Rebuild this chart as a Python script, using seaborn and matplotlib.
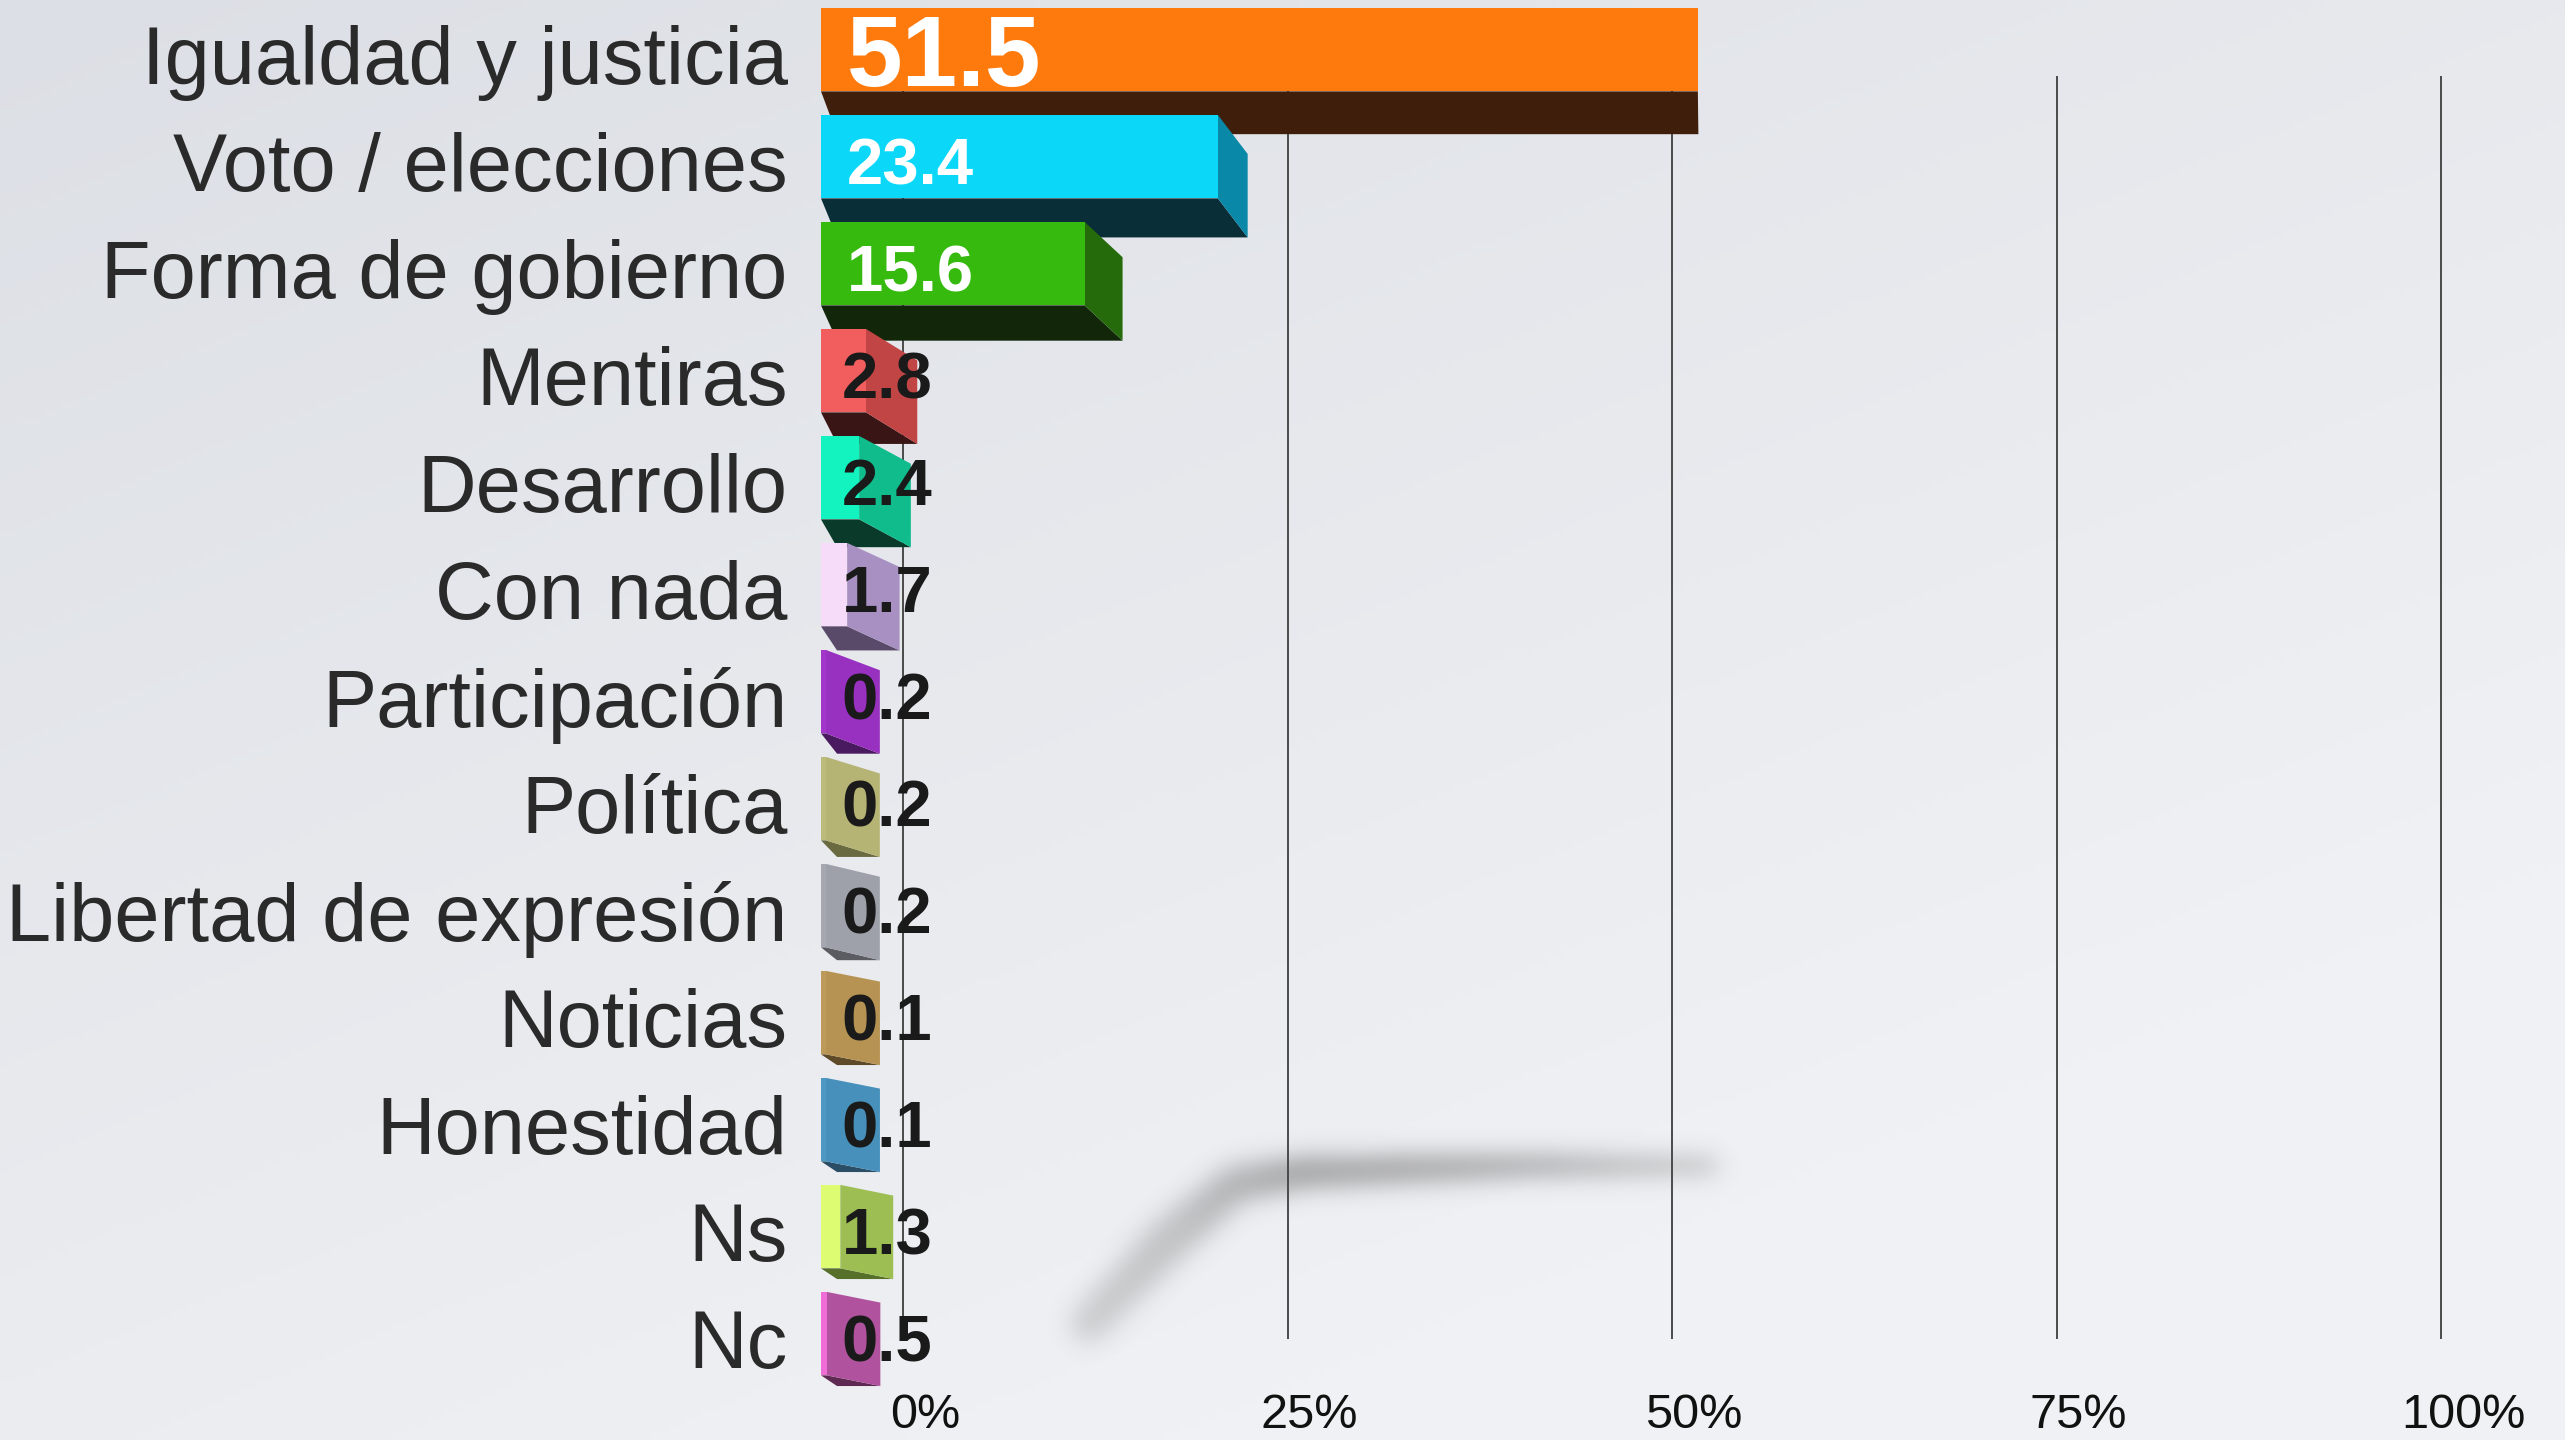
import numpy as np
import pandas as pd

import matplotlib
matplotlib.use('Agg')

import matplotlib.pyplot as plt
import matplotlib.colors as mcolors
from matplotlib.patches import Polygon
from matplotlib.transforms import ScaledTranslation
import seaborn as sns


# =========================================================
# DATA
# =========================================================

CATEGORIES = [
    "Igualdad y justicia",
    "Voto / elecciones",
    "Forma de gobierno",
    "Mentiras",
    "Desarrollo",
    "Con nada",
    "Participación",
    "Política",
    "Libertad de expresión",
    "Noticias",
    "Honestidad",
    "Ns",
    "Nc",
]

VALUES = [51.5, 23.4, 15.6, 2.8, 2.4, 1.7, 0.2, 0.2, 0.2, 0.1, 0.1, 1.3, 0.5]

VALUE_LABELS = ["51.5", "23.4", "15.6", "2.8", "2.4", "1.7", "0.2",
                "0.2", "0.2", "0.1", "0.1", "1.3", "0.5"]

TICKS = [0, 25, 50, 75, 100]
TICK_LABELS = ["0%", "25%", "50%", "75%", "100%"]


# =========================================================
# STYLE
# =========================================================

FRONT = ["#FF7A0C", "#0BD8F8", "#36BA0E", "#F25E5E", "#12F3C0",
         "#F7DCF9", "#A236CA", "#BDBB7C", "#A5A8B0", "#BD9A5A",
         "#4E98C4", "#DDFC72", "#F06CD6"]

SIDE = ["#E06A08", "#0A88A8", "#256B0C", "#C24545", "#10BC8C",
        "#A891C2", "#9830C0", "#B6B474", "#9EA1A9", "#B69352",
        "#4790BC", "#9CBE52", "#B0529E"]

BOTTOM = ["#3F1F0C", "#0A2E38", "#12260A", "#3A1515", "#0A3A2A",
          "#5A4A6A", "#4A1A60", "#6A6A40", "#5A5C62", "#5E4A28",
          "#2A4E66", "#56702A", "#5E2A54"]

WHITE_LABEL = [True, True, True] + [False] * 10
LABEL_SIZE = [72, 47, 47] + [47] * 10

BAR_START = -3.2      # front-scale position of bar left edges
VANISH = 52.0         # side faces shrink towards this point
SIDE_RATIO = 0.065

sns.set_theme(style="white")
plt.rcParams['font.family'] = ['Liberation Sans', 'DejaVu Sans']

W, H = 2565, 1440
fig = plt.figure(figsize=(W / 100, H / 100), dpi=100)

# background gradient
ax_bg = fig.add_axes([0, 0, 1, 1], zorder=0)
gx, gy = np.meshgrid(np.linspace(0, 1, 300), np.linspace(0, 1, 200))
t = np.clip(0.55 * gx + 0.75 * gy, 0, 1)
c0 = np.array(mcolors.to_rgb("#DCDFE5"))
c1 = np.array(mcolors.to_rgb("#F0F1F4"))
grad = c0[None, None, :] * (1 - t[..., None]) + c1[None, None, :] * t[..., None]
ax_bg.imshow(grad, aspect='auto', extent=[0, 1, 1, 0])
ax_bg.axis('off')

POS = [800 / W, 50 / H, 1765 / W, 1390 / H]
YLIM = (12.477, -0.514)


# =========================================================
# BACK WALL: GRID + PERCENT TICKS
# =========================================================

ax_back = fig.add_axes(POS, zorder=1)
ax_back.set_facecolor('none')


def blur1d(a, sigma, axis):
    r = int(3 * sigma)
    k = np.exp(-0.5 * (np.arange(-r, r + 1) / sigma) ** 2)
    k /= k.sum()
    return np.apply_along_axis(lambda m: np.convolve(m, k, mode='same'), axis, a)


# soft floor shadow of the longest bar (blurred polyline)
sx = np.array([VALUES[0] + 1.0, 40, 26, 21.5, 17, 12.0])
sy = np.array([10.38, 10.38, 10.44, 10.55, 11.1, 11.85])
sw = np.array([6, 10, 15, 18, 22, 18])            # half widths in px
si = np.array([0.8, 1.0, 1.0, 0.75, 0.55, 0.45])  # darkness

PX_X, PX_Y = 15.38, 107.0
x0, x1, y0, y1 = 4.0, 59.0, 9.8, 12.45
nx, ny = int((x1 - x0) * PX_X), int((y1 - y0) * PX_Y)
px, py = np.meshgrid(np.arange(nx), np.arange(ny))
mask = np.zeros((ny, nx))
qx, qy = (sx - x0) * PX_X, (sy - y0) * PX_Y
for j in range(len(sx) - 1):
    ax_, ay_, bx_, by_ = qx[j], qy[j], qx[j + 1], qy[j + 1]
    vx, vy = bx_ - ax_, by_ - ay_
    u = np.clip(((px - ax_) * vx + (py - ay_) * vy) / (vx * vx + vy * vy), 0, 1)
    d = np.hypot(px - (ax_ + u * vx), py - (ay_ + u * vy))
    hw = sw[j] + u * (sw[j + 1] - sw[j])
    inten = si[j] + u * (si[j + 1] - si[j])
    mask = np.maximum(mask, np.where(d < hw, inten, 0.0))
mask = blur1d(blur1d(mask, 12, 0), 12, 1)
shadow = np.zeros((ny, nx, 4))
shadow[..., :3] = 0.42
shadow[..., 3] = np.clip(mask * 0.6, 0, 1)
ax_back.imshow(shadow, extent=[x0, x1, y1, y0], aspect='auto',
               interpolation='bilinear', zorder=1)

ax_back.vlines(TICKS, 0.2, 12.0, color="#4a4a4a", lw=1.4, zorder=2)

ax_back.set_xlim(-6.70, 108.06)
ax_back.set_ylim(*YLIM)
ax_back.set_xticks(TICKS)
ax_back.set_xticklabels(TICK_LABELS, fontsize=35, color="#111111")
ax_back.tick_params(axis='x', length=0, pad=2)
for lbl in ax_back.get_xticklabels():
    lbl.set_transform(lbl.get_transform() +
                      ScaledTranslation(0.22, 0, fig.dpi_scale_trans))
ax_back.set_yticks([])
for s in ax_back.spines.values():
    s.set_visible(False)


# =========================================================
# FRONT: 3D-LOOKING BARS
# =========================================================

ax = fig.add_axes(POS, zorder=2)
ax.set_facecolor('none')

df = pd.DataFrame({"cat": CATEGORIES, "val": VALUES})

sns.barplot(
    data=df,
    x="val",
    y="cat",
    hue="cat",
    palette=FRONT,
    legend=False,
    orient='h',
    width=0.78,
    saturation=1,
    ax=ax
)

for i, (patch, v) in enumerate(zip(ax.patches, VALUES)):

    dx = SIDE_RATIO * max(VANISH - v, 0)
    dy = max(0.40 - 0.035 * i, 0.10)
    front_end = max(v - dx, BAR_START + 0.3)

    top = patch.get_y() - 0.05
    bot = top + patch.get_height()

    patch.set_x(BAR_START)
    patch.set_width(front_end - BAR_START)
    patch.set_y(top)
    patch.set_edgecolor('none')
    patch.set_zorder(10 + 3 * i + 2)

    bottom_face = Polygon(
        [(BAR_START, bot), (front_end, bot),
         (front_end + dx, bot + dy), (BAR_START + 1.0, bot + dy)],
        closed=True, facecolor=BOTTOM[i], edgecolor='none',
        zorder=10 + 3 * i
    )
    ax.add_patch(bottom_face)

    if dx > 0.05:
        side_face = Polygon(
            [(front_end, top), (front_end + dx, top + dy),
             (front_end + dx, bot + dy), (front_end, bot)],
            closed=True, facecolor=SIDE[i], edgecolor='none',
            zorder=10 + 3 * i + 1
        )
        ax.add_patch(side_face)

    ax.text(
        -1.6 if WHITE_LABEL[i] else -1.9,
        top + patch.get_height() / 2 + 0.1,
        VALUE_LABELS[i],
        ha='left',
        va='center',
        fontsize=LABEL_SIZE[i],
        fontweight='bold',
        color='white' if WHITE_LABEL[i] else '#1a1a1a',
        zorder=60
    )

ax.set_xlim(-4.51, 105.53)
ax.set_ylim(*YLIM)
ax.set_xticks([])
ax.set_xlabel("")
ax.set_ylabel("")
ax.tick_params(axis='y', length=0, pad=9, labelsize=58.5, labelcolor="#2a2a2a")
for s in ax.spines.values():
    s.set_visible(False)

plt.savefig("out.png", dpi=100)
plt.close()
